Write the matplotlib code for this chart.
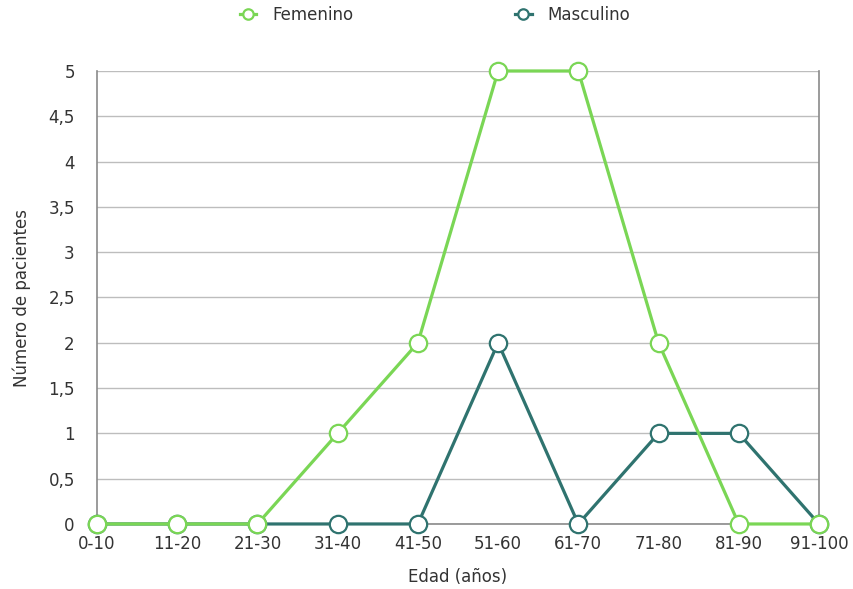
import os
import matplotlib as mpl
import matplotlib.pyplot as plt
from matplotlib.font_manager import FontProperties
from matplotlib.ticker import FuncFormatter

font_path = os.path.join(mpl.get_data_path(), "fonts", "ttf", "DejaVuSans.ttf")
fs = 12
prop = FontProperties(fname=font_path, size=fs)

age_groups = ["0-10", "11-20", "21-30", "31-40", "41-50", "51-60",
              "61-70", "71-80", "81-90", "91-100"]
femenino = [0, 0, 0, 1, 2, 5, 5, 2, 0, 0]
masculino = [0, 0, 0, 0, 0, 2, 0, 1, 1, 0]

green = "#7ad655"
teal = "#2f736f"
text_color = "#333333"

fig = plt.figure(figsize=(8.54, 5.89), dpi=100)
ax = fig.add_axes([0.1136, 0.1104, 0.8454, 0.7691])

x = list(range(len(age_groups)))
ax.plot(x, masculino, color=teal, lw=2.3, marker='o', ms=12.5,
        mfc='white', mec=teal, mew=1.6, label="Masculino", zorder=3,
        clip_on=False)
ax.plot(x, femenino, color=green, lw=2.3, marker='o', ms=12.5,
        mfc='white', mec=green, mew=1.6, label="Femenino", zorder=4,
        clip_on=False)

ax.set_xlim(0, len(age_groups) - 1)
ax.set_ylim(0, 5)
ax.set_xticks(x)
ax.set_xticklabels(age_groups)
ax.set_yticks([i * 0.5 for i in range(11)])
ax.yaxis.set_major_formatter(FuncFormatter(
    lambda v, _: (f"{v:g}").replace('.', ',')))
ax.tick_params(length=0, colors=text_color)
ax.tick_params(axis='y', pad=16)
ax.tick_params(axis='x', pad=8)
for lbl in ax.get_xticklabels() + ax.get_yticklabels():
    lbl.set_fontproperties(prop)

ax.grid(axis='y', color='#bdbdbd', lw=1)
ax.set_axisbelow(True)
for side in ('left', 'right', 'bottom'):
    ax.spines[side].set_color('#8a8a8a')
    ax.spines[side].set_linewidth(1.2)
ax.spines['top'].set_visible(False)

fig.text(458 / 854, 1 - 577 / 589, "Edad (años)", fontproperties=prop,
         color=text_color, ha='center', va='center')
fig.text(22 / 854, 1 - 298 / 589, "Número de pacientes", fontproperties=prop,
         color=text_color, ha='center', va='center', rotation=90)

handles, labels = ax.get_legend_handles_labels()
leg = fig.legend(handles[::-1], labels[::-1], loc='center left',
                 bbox_to_anchor=(0.2807, 1 - 15 / 589), ncol=2,
                 frameon=False, prop=prop, handlelength=1.0,
                 columnspacing=9.7, markerscale=0.6, handletextpad=0.94,
                 borderpad=0, borderaxespad=0)
for t in leg.get_texts():
    t.set_color(text_color)

fig.savefig("out.png", dpi=100)
